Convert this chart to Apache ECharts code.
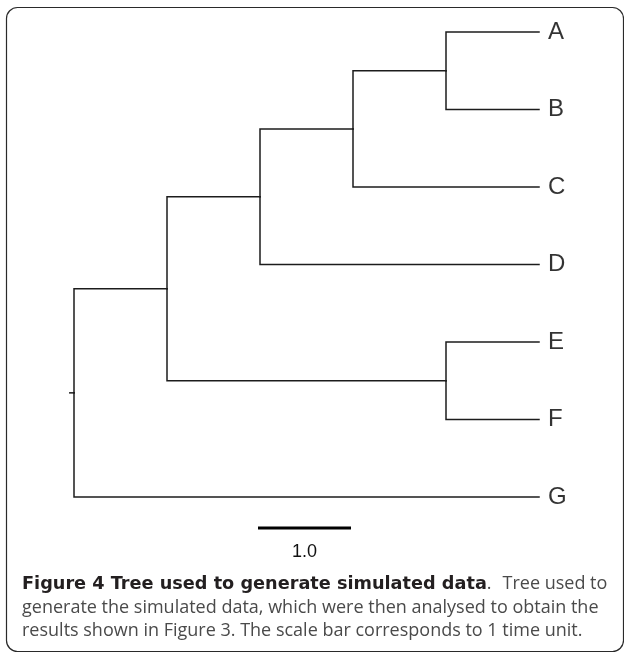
<!DOCTYPE html>
<html><head><meta charset="utf-8">
<script src="https://cdn.jsdelivr.net/npm/echarts@6/dist/echarts.min.js"></script>
<style>html,body{margin:0;padding:0;background:#fff}#c{width:624px;height:655px}</style>
</head><body><div id="c"></div>
<script>
// ---- data ----
const nodeNames     = ['root', 'n1', 'n2', 'n3', 'n4', 'n5', 'A', 'B', 'C', 'D', 'E', 'F', 'G'];
const parentNames   = [null, 'root', 'n1', 'n2', 'n3', 'n1', 'n4', 'n4', 'n3', 'n2', 'n5', 'n5', 'root'];
const branchLengths = [0, 1, 1, 1, 1, 3, 1, 1, 2, 3, 1, 1, 5];
const leafOrder     = ['A', 'B', 'C', 'D', 'E', 'F', 'G'];
const rootEdgeLength = 0.045;
const scaleBarValue = 1.0;
const scaleBarLabel = '1.0';
const captionBold = 'Figure 4 Tree used to generate simulated data';
const captionRest1 = 'Tree used to';
const captionLine2 = 'generate the simulated data, which were then analysed to obtain the';
const captionLine3 = 'results shown in Figure 3. The scale bar corresponds to 1 time unit.';

// ---- tree layout (depth = cumulative branch length, y = leaf index / mean of children) ----
const idx = {}; nodeNames.forEach((n, i) => idx[n] = i);
const children = {}; nodeNames.forEach(n => children[n] = []);
parentNames.forEach((p, i) => { if (p) children[p].push(nodeNames[i]); });
const depth = {}, ypos = {};
function setDepth(n, d) { depth[n] = d; children[n].forEach(c => setDepth(c, d + branchLengths[idx[c]])); }
setDepth('root', 0);
function setY(n) {
  if (!children[n].length) { ypos[n] = leafOrder.indexOf(n); return ypos[n]; }
  const ys = children[n].map(setY);
  ypos[n] = (Math.min(...ys) + Math.max(...ys)) / 2; return ypos[n];
}
setY('root');
const edges = [];
nodeNames.forEach((n, i) => {
  const p = parentNames[i];
  if (p) edges.push([depth[p], ypos[p], depth[n], ypos[n]]);
});
edges.push([-rootEdgeLength, ypos['root'], 0, ypos['root']]);
const leafPoints = leafOrder.map(n => [depth[n], ypos[n], n]);
const maxDepth = Math.max(...leafOrder.map(n => depth[n]));

const chart = echarts.init(document.getElementById('c'), null, {renderer: 'canvas'});
chart.setOption({
  animation: false,
  backgroundColor: '#fff',
  grid: {left: 74, top: 32, width: 465, height: 465},
  xAxis: {type: 'value', min: 0, max: maxDepth, show: false},
  yAxis: {type: 'value', min: 0, max: leafOrder.length - 1, inverse: true, show: false},
  series: [
    {
      type: 'custom', coordinateSystem: 'cartesian2d', clip: false, silent: true,
      data: edges, encode: {x: [0, 2], y: [1, 3]},
      renderItem(params, api) {
        const p = api.coord([api.value(0), api.value(1)]);
        const c = api.coord([api.value(2), api.value(3)]);
        return {type: 'polyline', shape: {points: [p, [p[0], c[1]], c]},
          style: {stroke: '#1c1c1c', lineWidth: 1.5, fill: null, lineJoin: 'miter', lineCap: 'square'}};
      }
    },
    {
      type: 'scatter', symbolSize: 0, silent: true, data: leafPoints,
      label: {show: true, position: 'right', distance: 9, formatter: p => p.value[2],
        fontFamily: 'Liberation Sans, Arial', fontSize: 24, color: '#000'}
    },
    {
      type: 'custom', coordinateSystem: 'cartesian2d', clip: false, silent: true,
      data: [[maxDepth / 2, leafOrder.length - 1]],
      renderItem(params, api) {
        const c = api.coord([api.value(0), api.value(1)]);
        const a = api.coord([api.value(0) - scaleBarValue / 2, api.value(1)]);
        const b = api.coord([api.value(0) + scaleBarValue / 2, api.value(1)]);
        const y = c[1] + 31;
        return {type: 'group', children: [
          {type: 'line', shape: {x1: a[0] - 2, y1: y, x2: b[0] - 2, y2: y}, style: {stroke: '#000', lineWidth: 3}},
          {type: 'text', x: c[0] - 2, y: y + 24, style: {text: scaleBarLabel, align: 'center', verticalAlign: 'middle',
            fontFamily: 'Liberation Sans, Arial', fontSize: 18, fill: '#111'}}
        ]};
      }
    }
  ],
  graphic: [
    {type: 'rect', shape: {x: 6.5, y: 7.5, width: 617, height: 644, r: 11},
      style: {fill: null, stroke: '#2a2a2a', lineWidth: 1.2}, silent: true},
    {type: 'text', left: 22, top: 575, style: {
      text: '{b|' + captionBold + '}{p|.}{r|' + captionRest1 + '}',
      rich: {
        b: {fontFamily: 'DejaVu Sans', fontWeight: 'bold', fontSize: 17.7, fill: '#231f20'},
        p: {fontFamily: 'Open Sans', fontSize: 18, fill: '#4a4a4a'},
        r: {fontFamily: 'Open Sans', fontSize: 18, fill: '#4a4a4a', padding: [0, 0, 0, 11]}
      }}},
    {type: 'text', left: 22, top: 599, style: {text: captionLine2, fontFamily: 'Open Sans', fontSize: 18, fill: '#4a4a4a'}},
    {type: 'text', left: 22, top: 622, style: {text: captionLine3, fontFamily: 'Open Sans', fontSize: 18, fill: '#4a4a4a'}}
  ]
});
</script></body></html>
